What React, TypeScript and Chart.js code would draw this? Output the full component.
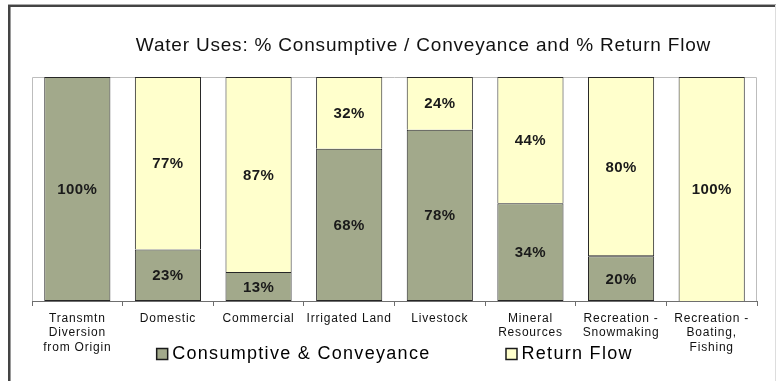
import React, { useEffect, useRef } from "react";
import { Chart, registerables } from "chart.js";

Chart.register(...registerables);

const titleText = "Water Uses: % Consumptive / Conveyance and % Return Flow";
const categories: string[][] = [
  ["Transmtn", "Diversion", "from Origin"],
  ["Domestic"],
  ["Commercial"],
  ["Irrigated Land"],
  ["Livestock"],
  ["Mineral", "Resources"],
  ["Recreation -", "Snowmaking"],
  ["Recreation -", "Boating,", "Fishing"],
];
const seriesNames = ["Consumptive & Conveyance", "Return Flow"];
const consumptive = [100, 23, 13, 68, 78, 34, 20, 0];
const returnFlow = [0, 77, 87, 32, 24, 44, 80, 100];

const FONT = "Arial, 'Liberation Sans', sans-serif";
const GREEN = "#A2A98B";
const YELLOW = "#FFFFCC";
const EDGE = "#262626";

const rawSeries = [consumptive, returnFlow];
const share = (arr: number[]) =>
  arr.map((v, i) => {
    const t = consumptive[i] + returnFlow[i];
    return t ? (v / t) * 100 : 0;
  });

const decorPlugin = {
  id: "decor",
  beforeDraw(chart: any) {
    const ctx = chart.ctx as CanvasRenderingContext2D;
    const { left, right, top, bottom } = chart.chartArea;
    ctx.save();
    // outer frame
    ctx.fillStyle = "#aaaaaa";
    ctx.fillRect(8, 4, 768, 1);
    ctx.fillStyle = "#444444";
    ctx.fillRect(8, 5, 768, 2);
    ctx.fillRect(8, 5, 2, 376);
    ctx.fillStyle = "#9a9a9a";
    ctx.fillRect(10, 7, 1, 374);
    ctx.fillStyle = "#dddddd";
    ctx.fillRect(775, 5, 1, 376);
    // plot area border (left, top, right)
    ctx.strokeStyle = "#bdbdbd";
    ctx.lineWidth = 1;
    ctx.beginPath();
    ctx.moveTo(left + 0.5, bottom);
    ctx.lineTo(left + 0.5, top + 0.5);
    ctx.lineTo(right - 0.5, top + 0.5);
    ctx.lineTo(right - 0.5, bottom);
    ctx.stroke();
    // title
    (ctx as any).letterSpacing = "0.8px";
    ctx.fillStyle = "#111111";
    ctx.font = `19px ${FONT}`;
    ctx.textAlign = "center";
    ctx.textBaseline = "middle";
    ctx.fillText(titleText, (left + right) / 2 + 29, 46);
    ctx.restore();
    (ctx as any).letterSpacing = "0.8px";
  },
  afterDatasetsDraw(chart: any) {
    const ctx = chart.ctx as CanvasRenderingContext2D;
    ctx.save();
    (ctx as any).letterSpacing = "0.4px";
    ctx.font = `bold 15px ${FONT}`;
    ctx.fillStyle = "#1a1a1a";
    ctx.textAlign = "center";
    ctx.textBaseline = "middle";
    chart.data.datasets.forEach((ds: any, di: number) => {
      const meta = chart.getDatasetMeta(di);
      meta.data.forEach((bar: any, j: number) => {
        const v = rawSeries[di][j];
        if (!v) return;
        const p = bar.getProps(["x", "y", "base"], true);
        ctx.fillText(`${v}%`, p.x, (p.y + p.base) / 2 + 1);
      });
    });
    ctx.restore();
  },
  afterDraw(chart: any) {
    const ctx = chart.ctx as CanvasRenderingContext2D;
    const { left, right } = chart.chartArea;
    ctx.save();
    (ctx as any).letterSpacing = "1.3px";
    ctx.font = `18px ${FONT}`;
    ctx.textBaseline = "middle";
    ctx.textAlign = "left";
    const box = 12;
    const gapBox = 4;
    const gapItems = 75;
    const items = chart.data.datasets.map((ds: any) => ({
      label: ds.label as string,
      color: ds.backgroundColor as string,
      w: ctx.measureText(ds.label).width,
    }));
    const total =
      items.reduce((s: number, it: any) => s + box + gapBox + it.w, 0) +
      gapItems * (items.length - 1);
    let x = (left + right) / 2 - total / 2;
    const y = 354;
    items.forEach((it: any) => {
      ctx.fillStyle = it.color;
      ctx.fillRect(x + 0.5, y - box / 2 + 0.5, box - 1, box - 1);
      ctx.strokeStyle = "#1a1a1a";
      ctx.lineWidth = 1.5;
      ctx.strokeRect(x + 0.5, y - box / 2 + 0.5, box - 1, box - 1);
      ctx.fillStyle = "#000000";
      ctx.fillText(it.label, x + box + gapBox, y);
      x += box + gapBox + it.w + gapItems;
    });
    ctx.restore();
    (ctx as any).letterSpacing = "0px";
  },
};

export default function App() {
  const ref = useRef<HTMLCanvasElement | null>(null);
  useEffect(() => {
    if (!ref.current) return;
    const chart = new Chart(ref.current, {
      type: "bar",
      data: {
        labels: categories,
        datasets: [
          {
            label: seriesNames[0],
            data: share(consumptive),
            backgroundColor: GREEN,
            borderColor: EDGE,
            borderWidth: 1,
            borderSkipped: false,
          },
          {
            label: seriesNames[1],
            data: share(returnFlow),
            backgroundColor: YELLOW,
            borderColor: EDGE,
            borderWidth: 1,
            borderSkipped: (c: any) => (c.dataIndex === 6 ? false : "bottom"),
          } as any,
        ],
      },
      options: {
        animation: false,
        responsive: false,
        devicePixelRatio: 1,
        layout: { padding: { top: 77, left: 32, right: 19, bottom: 0 } },
        datasets: { bar: { categoryPercentage: 1, barPercentage: 0.73 } },
        plugins: {
          legend: { display: false },
          title: { display: false },
          tooltip: { enabled: false },
        },
        scales: {
          x: {
            stacked: true,
            afterFit: (s: any) => {
              s.height = 80;
            },
            grid: {
              offset: true,
              drawOnChartArea: false,
              drawTicks: true,
              tickLength: 5,
              color: "#6e6e6e",
            },
            border: { display: true, color: "#6e6e6e" },
            ticks: {
              autoSkip: false,
              maxRotation: 0,
              minRotation: 0,
              padding: 5,
              color: "#111111",
              font: { family: FONT, size: 12, lineHeight: 1.21 },
            },
          },
          y: {
            stacked: true,
            display: false,
            min: 0,
            max: 100,
          },
        },
      },
      plugins: [decorPlugin],
    } as any);
    return () => chart.destroy();
  }, []);
  return (
    <div style={{ position: "absolute", left: 0, top: 0, width: 776, height: 381 }}>
      <canvas ref={ref} width={776} height={381} style={{ display: "block" }} />
    </div>
  );
}
